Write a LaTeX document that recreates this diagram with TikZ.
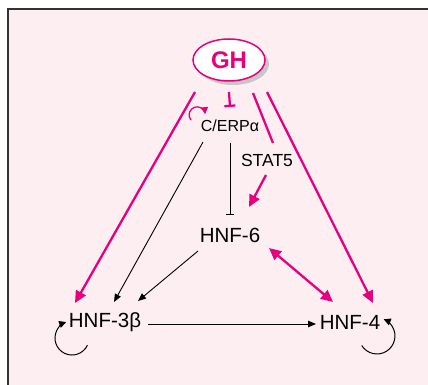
\documentclass[tikz,border=0pt]{standalone}
\usepackage{fontspec}
\setmainfont{Liberation Sans}
\usetikzlibrary{arrows.meta,shadows,calc,shapes.geometric}
\definecolor{mag}{RGB}{230,0,126}
\definecolor{panel}{RGB}{253,238,242}

\begin{document}
\begin{tikzpicture}[x=1pt,y=1pt,
  gene/.style={font=\fontsize{20.5}{24}\selectfont, inner sep=1pt},
  smalllabel/.style={font=\fontsize{16}{19}\selectfont, inner sep=1pt},
  pinkline/.style={draw=mag, line width=2.3pt},
  pinkarrow/.style={pinkline, -{Triangle[length=12pt,width=11pt]}},
  pinkboth/.style={pinkline, {Triangle[length=12pt,width=11pt]}-{Triangle[length=12pt,width=11pt]}},
  pinkblock/.style={pinkline, -{Bar[width=11pt,line width=2.3pt]}},
  blackarrow/.style={draw=black, line width=0.9pt, -{Triangle[length=8pt,width=6.5pt]}},
  blackblock/.style={draw=black, line width=0.9pt, -{Bar[width=8pt,line width=0.9pt]}},
  selfloop/.style={draw=black, line width=1pt, -{Triangle[length=7pt,width=7pt]}},
]
\useasboundingbox (0,0) rectangle (428,-385);

% panel background, running past the lower and right edges
\begin{scope}
  \clip (0,0) rectangle (428,-385);
  \draw[fill=panel, draw=black!80, line width=1.3pt] (8,-9) rectangle (445,-400);
\end{scope}

% nodes
\node[ellipse, draw=mag, fill=white, line width=1.5pt,
      minimum width=72pt, minimum height=42pt, inner sep=0pt,
      drop shadow={shadow xshift=4pt, shadow yshift=-4pt, fill=black!22, opacity=1},
      font=\fontsize{24}{28}\selectfont\bfseries, text=mag] (gh) at (229,-60) {GH};
\node[smalllabel] (cebp) at (230,-126) {C/ERPα};
\node[font=\fontsize{17.5}{20}\selectfont, inner sep=1pt] (stat) at (267,-160) {STAT5};
\node[gene] (h6) at (230,-235) {HNF-6};
\node[gene] (h3) at (105,-322) {HNF-3β};
\node[gene] (h4) at (350,-322) {HNF-4};

% GH signalling (magenta)
\draw[pinkarrow] ($(gh)+(-34,-32)$) -- ($(h3)+(-30,19)$);
\draw[pinkarrow] ($(gh)+(38,-32)$) -- ($(h4)+(23,19)$);
\draw[pinkline] ($(gh)+(24,-33)$) -- ($(stat)+(6,17)$);
\draw[pinkarrow] ($(stat)+(-1,-15)$) -- ($(h6)+(19,28)$);
\draw[pinkblock] ($(gh)+(0,-32)$) -- ($(cebp)+(0,19)$);
\draw[pinkboth] ($(h6)+(39,-13)$) -- ($(h4)+(-17,20)$);

% C/EBP self-activation
\draw[draw=mag, line width=1.3pt, -{Triangle[length=7pt,width=7pt]}]
  ($(cebp)+(-39,6)$) arc[start angle=220, end angle=5, radius=8];

% transcription factor cascade (black)
\draw[blackblock] ($(cebp)+(0,-17)$) -- ($(h6)+(0,20)$);
\draw[blackarrow] ($(cebp)+(-27,-16)$) -- ($(h3)+(9,20)$);
\draw[blackarrow] ($(h6)+(-32,-16)$) -- ($(h3)+(33,21)$);
\draw[blackarrow] ($(h3)+(43,-2)$) -- ($(h4)+(-34,-2)$);

% autoregulatory loops
\draw[selfloop] ($(h3)+(-17.6,-23.2)$) arc[start angle=-25, end angle=-250, radius=17];
\draw[selfloop] ($(h4)+(11.7,-23.5)$) arc[start angle=-148, end angle=68, radius=18];
\end{tikzpicture}
\end{document}
